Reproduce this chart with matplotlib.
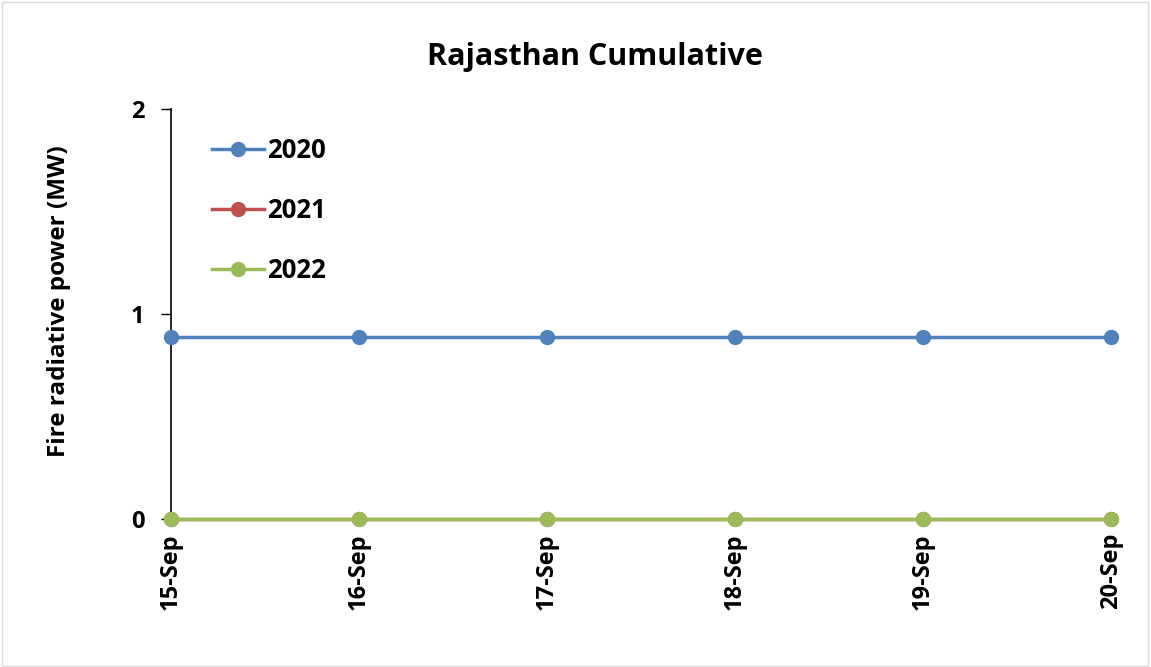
import matplotlib
matplotlib.use("Agg")
import matplotlib.pyplot as plt
from matplotlib.patches import Rectangle

plt.rcParams['font.family'] = ['Open Sans', 'DejaVu Sans']

dates = ['15-Sep', '16-Sep', '17-Sep', '18-Sep', '19-Sep', '20-Sep']
frp_2020 = [0.89, 0.89, 0.89, 0.89, 0.89, 0.89]
frp_2021 = [0, 0, 0, 0, 0, 0]
frp_2022 = [0, 0, 0, 0, 0, 0]

fig = plt.figure(figsize=(11.51, 6.67), dpi=100)
fig.patches.append(Rectangle((0.002, 0.002), 0.995, 0.995, transform=fig.transFigure,
                             fill=False, edgecolor='#d9d9d9', lw=1))
ax = fig.add_axes([0.1486, 0.2219, 0.8167, 0.6147])

x = range(len(dates))
ax.plot(x, frp_2020, color='#4f81bd', lw=2.5, marker='o', ms=10, label='2020', clip_on=False, zorder=3)
ax.plot(x, frp_2021, color='#c0504d', lw=2.5, marker='o', ms=10, label='2021', clip_on=False, zorder=3)
ax.plot(x, frp_2022, color='#9bbb59', lw=2.5, marker='o', ms=10, label='2022', clip_on=False, zorder=4)

ax.set_xlim(0, len(dates) - 1)
ax.set_ylim(0, 2)
ax.set_yticks([0, 1, 2])
ax.set_xticks(list(x))
ax.set_xticklabels(dates, rotation=90, fontsize=17, fontweight='bold')
for t in ax.get_yticklabels():
    t.set_fontsize(17)
    t.set_fontweight('bold')
ax.tick_params(axis='y', length=7, width=1, pad=12)
ax.tick_params(axis='x', length=4, width=1, pad=6)

for s in ['top', 'right']:
    ax.spines[s].set_visible(False)
ax.spines['left'].set_linewidth(1.2)
ax.spines['bottom'].set_linewidth(1.2)

fig.text(0.517, 0.915, 'Rajasthan Cumulative', fontsize=22, fontweight='bold',
         ha='center', va='center')
ax.set_ylabel('Fire radiative power (MW)', fontsize=17.5, fontweight='bold')
ax.yaxis.set_label_coords(-0.106, 0.532)

leg = ax.legend(loc='upper left', bbox_to_anchor=(0.019, 0.987), frameon=False,
                prop={'size': 18.5, 'weight': 'bold'}, labelspacing=1.28,
                handlelength=2.02, handletextpad=0.12)

fig.savefig('out.png', dpi=100)
